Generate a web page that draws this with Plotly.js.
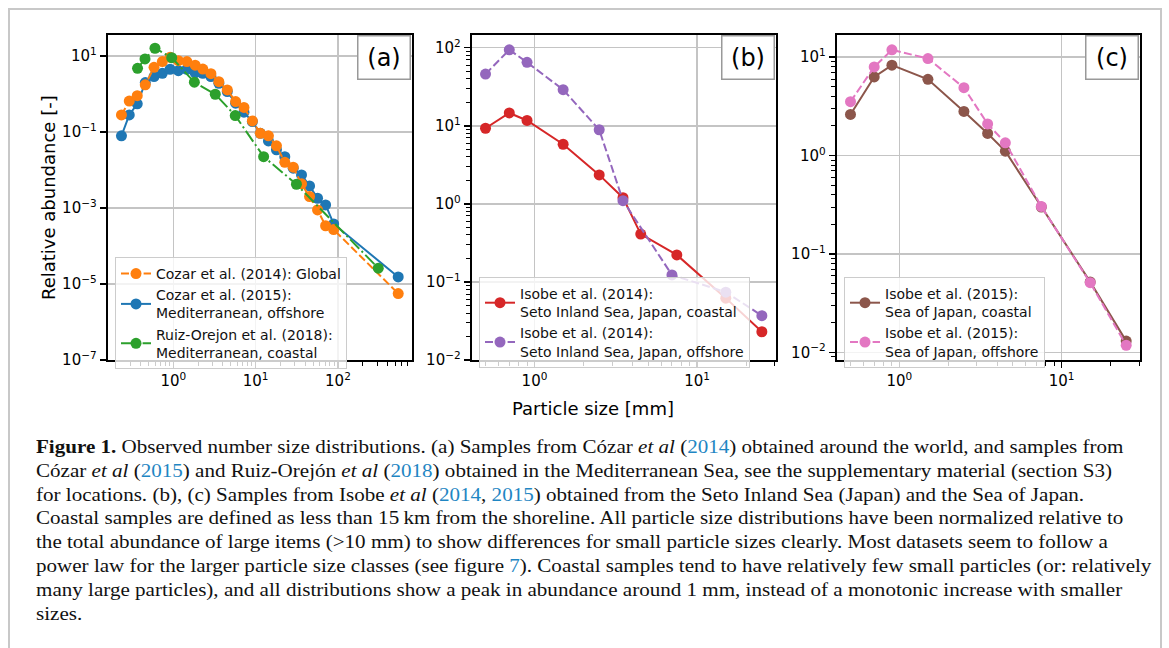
<!DOCTYPE html>
<html>
<head>
<meta charset="utf-8">
<script src="https://cdn.plot.ly/plotly-3.0.1.min.js"></script>
<style>
  html, body { margin: 0; padding: 0; background: #ffffff; }
  #wrap { position: relative; width: 1169px; height: 648px; overflow: hidden; }
  #chart { position: absolute; left: 0; top: 0; width: 1169px; height: 648px; }
  #caption {
    position: absolute; left: 36px; top: 436px;
    font-family: 'Liberation Serif', 'DejaVu Serif', serif;
    font-size: 18px; line-height: 23.8px; color: #111;
    white-space: nowrap;
    transform: scaleX(1.17); transform-origin: 0 0;
  }
  #caption a { color: #1f86c3; text-decoration: none; }
</style>
</head>
<body>
<div id="wrap">
  <div id="chart"></div>
  <div id="caption">
    <b>Figure 1.</b> Observed number size distributions. (a) Samples from Cózar <i>et al</i> (<a>2014</a>) obtained around the world, and samples from<br>
    Cózar <i>et al</i> (<a>2015</a>) and Ruiz-Orejón <i>et al</i> (<a>2018</a>) obtained in the Mediterranean Sea, see the supplementary material (section S3)<br>
    for locations. (b), (c) Samples from Isobe <i>et al</i> (<a>2014</a>, <a>2015</a>) obtained from the Seto Inland Sea (Japan) and the Sea of Japan.<br>
    Coastal samples are defined as less than 15&#8201;km from the shoreline. All particle size distributions have been normalized relative to<br>
    the total abundance of large items (&gt;10 mm) to show differences for small particle sizes clearly. Most datasets seem to follow a<br>
    power law for the larger particle size classes (see figure <a>7</a>). Coastal samples tend to have relatively few small particles (or: relatively<br>
    many large particles), and all distributions show a peak in abundance around 1 mm, instead of a monotonic increase with smaller<br>
    sizes.
  </div>
</div>
<script>
// ---------- DATA ----------
// Panel (a)
const cozar2014_x = [0.234, 0.291, 0.364, 0.456, 0.582, 0.735, 0.912, 1.15, 1.46, 1.84, 2.28, 2.86, 3.57, 4.52, 5.71, 7.21, 9.12, 11.4, 14.3, 17.9, 22.6, 28.6, 36.1, 45.2, 56.5, 70.8, 88.7, 540];
const cozar2014_y = [0.28, 0.65, 0.90, 1.73, 5.0, 7.1, 9.2, 7.5, 7.1, 5.7, 4.5, 3.4, 2.1, 1.27, 0.63, 0.44, 0.195, 0.092, 0.079, 0.043, 0.0159, 0.0118, 0.0043, 0.0020, 0.00089, 0.00034, 0.00027, 5.6e-6];
const cozar2015_x = [0.234, 0.291, 0.364, 0.456, 0.582, 0.735, 0.912, 1.15, 1.46, 1.84, 2.28, 2.86, 3.57, 4.52, 5.71, 7.21, 9.12, 11.4, 14.3, 17.9, 22.6, 28.6, 36.1, 45.2, 56.5, 70.8, 88.7, 540];
const cozar2015_y = [0.079, 0.28, 0.55, 1.99, 2.86, 3.5, 4.46, 4.1, 4.46, 3.6, 3.5, 2.86, 1.91, 1.15, 0.57, 0.33, 0.187, 0.092, 0.058, 0.034, 0.0224, 0.0111, 0.0074, 0.0038, 0.0018, 0.0012, 0.00038, 1.53e-5];
const ruiz2018_x = [0.367, 0.452, 0.598, 0.955, 1.80, 3.23, 5.65, 12.5, 31.3, 309];
const ruiz2018_y = [4.7, 8.3, 15.9, 9.0, 2.03, 0.98, 0.27, 0.0224, 0.0042, 2.6e-5];
// Panel (b)
const isobe2014_coastal_x = [0.5, 0.7, 0.9, 1.5, 2.5, 3.5, 4.5, 7.5, 15, 25];
const isobe2014_coastal_y = [9.3, 14.6, 11.7, 5.8, 2.35, 1.2, 0.41, 0.222, 0.062, 0.023];
const isobe2014_offshore_x = [0.5, 0.7, 0.9, 1.5, 2.5, 3.5, 7, 15, 25];
const isobe2014_offshore_y = [46, 94, 65, 29, 8.9, 1.1, 0.123, 0.074, 0.037];
// Panel (c)
const isobe2015_x = [0.5, 0.7, 0.9, 1.5, 2.5, 3.5, 4.5, 7.5, 15, 25];
const isobe2015_coastal_y = [2.62, 6.3, 8.3, 5.97, 2.81, 1.68, 1.11, 0.30, 0.052, 0.013];
const isobe2015_offshore_y = [3.53, 7.96, 11.9, 9.7, 4.9, 2.1, 1.35, 0.304, 0.051, 0.0118];

// Series names
const names_a = ['Cozar et al. (2014): Global', 'Cozar et al. (2015):<br>Mediterranean, offshore', 'Ruiz-Orejon et al. (2018):<br>Mediterranean, coastal'];
const names_b = ['Isobe et al. (2014):<br>Seto Inland Sea, Japan, coastal', 'Isobe et al. (2014):<br>Seto Inland Sea, Japan, offshore'];
const names_c = ['Isobe et al. (2015):<br>Sea of Japan, coastal', 'Isobe et al. (2015):<br>Sea of Japan, offshore'];

// Tick values and labels
const ticks_a_x = [1, 10, 100];
const labels_a_x = ['10<sup>0</sup>', '10<sup>1</sup>', '10<sup>2</sup>'];
const ticks_a_y = [1e-7, 1e-5, 1e-3, 1e-1, 10];
const labels_a_y = ['10<sup>−7</sup>', '10<sup>−5</sup>', '10<sup>−3</sup>', '10<sup>−1</sup>', '10<sup>1</sup>'];
const ticks_bc_x = [1, 10];
const labels_bc_x = ['10<sup>0</sup>', '10<sup>1</sup>'];
const ticks_b_y = [0.01, 0.1, 1, 10, 100];
const labels_b_y = ['10<sup>−2</sup>', '10<sup>−1</sup>', '10<sup>0</sup>', '10<sup>1</sup>', '10<sup>2</sup>'];
const ticks_c_y = [0.01, 0.1, 1, 10];
const labels_c_y = ['10<sup>−2</sup>', '10<sup>−1</sup>', '10<sup>0</sup>', '10<sup>1</sup>'];

// ---------- STYLE ----------
const W = 1169, H = 648;
const C = {orange:'#ff7f0e', blue:'#1f77b4', green:'#2ca02c', red:'#d62728', purple:'#9467bd', brown:'#8c564b', pink:'#e377c2'};
const MS = 11, LW = 2;

function tr(x, y, name, color, dash, xa, ya, leg, rank) {
  return {
    x: x, y: y, name: name, type: 'scatter', mode: 'lines+markers',
    xaxis: xa, yaxis: ya, legend: leg, legendrank: rank,
    line: {color: color, width: LW, dash: dash},
    marker: {color: color, size: MS},
    hoverinfo: 'x+y'
  };
}

const data = [
  tr(cozar2015_x, cozar2015_y, names_a[1], C.blue, 'solid', 'x', 'y', 'legend', 2),
  tr(cozar2014_x, cozar2014_y, names_a[0], C.orange, '8px,3.3px', 'x', 'y', 'legend', 1),
  tr(ruiz2018_x, ruiz2018_y, names_a[2], C.green, '13px,3.3px,2px,3.3px', 'x', 'y', 'legend', 3),
  tr(isobe2014_coastal_x, isobe2014_coastal_y, names_b[0], C.red, 'solid', 'x2', 'y2', 'legend2', 1),
  tr(isobe2014_offshore_x, isobe2014_offshore_y, names_b[1], C.purple, '8px,3.3px', 'x2', 'y2', 'legend2', 2),
  tr(isobe2015_x, isobe2015_coastal_y, names_c[0], C.brown, 'solid', 'x3', 'y3', 'legend3', 1),
  tr(isobe2015_x, isobe2015_offshore_y, names_c[1], C.pink, '8px,3.3px', 'x3', 'y3', 'legend3', 2)
];

// minor tick positions (2..9 x 10^k) for log axes — styling only
function minorVals(lo, hi) {
  const v = [];
  for (let k = lo; k <= hi; k++) for (let m = 2; m <= 9; m++) v.push(m * Math.pow(10, k));
  return v;
}

function ax(extra) {
  return Object.assign({
    type: 'log', showline: true, linecolor: 'black', linewidth: 2, mirror: true,
    ticks: 'outside', ticklen: 6, tickwidth: 1.5, tickcolor: 'black',
    showgrid: true, gridcolor: '#c4c4c4', gridwidth: 1.5, zeroline: false,
    tickmode: 'array', tickfont: {size: 15, family: 'DejaVu Sans', color: 'black'},
    fixedrange: true
  }, extra);
}
function minorTicks(lo, hi) {
  return {tickmode: 'array', tickvals: minorVals(lo, hi), ticks: 'outside', ticklen: 3.5, tickwidth: 1, tickcolor: 'black', showgrid: false};
}

function px(v) { return v / W; }
function py(v) { return 1 - v / H; }

function legendBox(x, y) {
  return {
    x: px(x), y: py(y), xanchor: 'left', yanchor: 'top',
    bgcolor: 'rgba(255,255,255,0.8)', bordercolor: '#cccccc', borderwidth: 1,
    font: {size: 14, family: 'DejaVu Sans', color: '#111'},
    tracegroupgap: 0, itemwidth: 30, traceorder: 'normal'
  };
}

function panelLabel(text, x0, x1, y0, y1) {
  return {
    text: text, xref: 'paper', yref: 'paper',
    x: px((x0 + x1) / 2), y: py((y0 + y1) / 2), xanchor: 'center', yanchor: 'middle',
    showarrow: false, font: {size: 24, family: 'DejaVu Sans', color: 'black'},
    bgcolor: 'white', bordercolor: '#999999', borderwidth: 1.5, borderpad: 3,
    width: 45, height: 36
  };
}

const layout = {
  width: W, height: H, margin: {l: 0, r: 0, t: 0, b: 0},
  paper_bgcolor: 'white', plot_bgcolor: 'white',
  font: {family: 'DejaVu Sans', color: 'black', size: 14},
  showlegend: true,
  xaxis: ax({domain: [px(107.7), px(412)], range: [-0.798, 2.90], tickvals: ticks_a_x, ticktext: labels_a_x, anchor: 'y', minor: minorTicks(-1, 2)}),
  yaxis: ax({domain: [py(360), py(35)], range: [-7, 1.55], tickvals: ticks_a_y, ticktext: labels_a_y, anchor: 'x'}),
  xaxis2: ax({domain: [px(471.7), px(775.7)], range: [-0.386, 1.483], tickvals: ticks_bc_x, ticktext: labels_bc_x, anchor: 'y2', minor: minorTicks(-1, 1)}),
  yaxis2: ax({domain: [py(360), py(35)], range: [-2, 2.163], tickvals: ticks_b_y, ticktext: labels_b_y, anchor: 'x2', minor: minorTicks(-2, 2)}),
  xaxis3: ax({domain: [px(836.7), px(1140)], range: [-0.386, 1.483], tickvals: ticks_bc_x, ticktext: labels_bc_x, anchor: 'y3', minor: minorTicks(-1, 1)}),
  yaxis3: ax({domain: [py(360), py(35)], range: [-2.078, 1.226], tickvals: ticks_c_y, ticktext: labels_c_y, anchor: 'x3', minor: minorTicks(-3, 1)}),
  legend: legendBox(115, 257),
  legend2: legendBox(479, 277),
  legend3: legendBox(844, 277),
  annotations: [
    panelLabel('(a)', 359, 408, 38, 77),
    panelLabel('(b)', 723, 773, 38, 77),
    panelLabel('(c)', 1088, 1136, 38, 77),
    {text: 'Relative abundance [-]', xref: 'paper', yref: 'paper', x: px(48), y: py(198),
     xanchor: 'center', yanchor: 'middle', textangle: -90, showarrow: false,
     font: {size: 18, family: 'DejaVu Sans', color: 'black'}},
    {text: 'Particle size [mm]', xref: 'paper', yref: 'paper', x: px(593), y: py(408),
     xanchor: 'center', yanchor: 'middle', showarrow: false,
     font: {size: 18, family: 'DejaVu Sans', color: 'black'}}
  ],
  shapes: [
    {type: 'rect', xref: 'paper', yref: 'paper', x0: px(9), x1: px(1161), y0: -0.2, y1: py(9),
     line: {color: '#c8c8c8', width: 2}, fillcolor: 'rgba(0,0,0,0)', layer: 'below'}
  ]
};

Plotly.newPlot('chart', data, layout, {displayModeBar: false, staticPlot: true});
</script>
</body>
</html>
